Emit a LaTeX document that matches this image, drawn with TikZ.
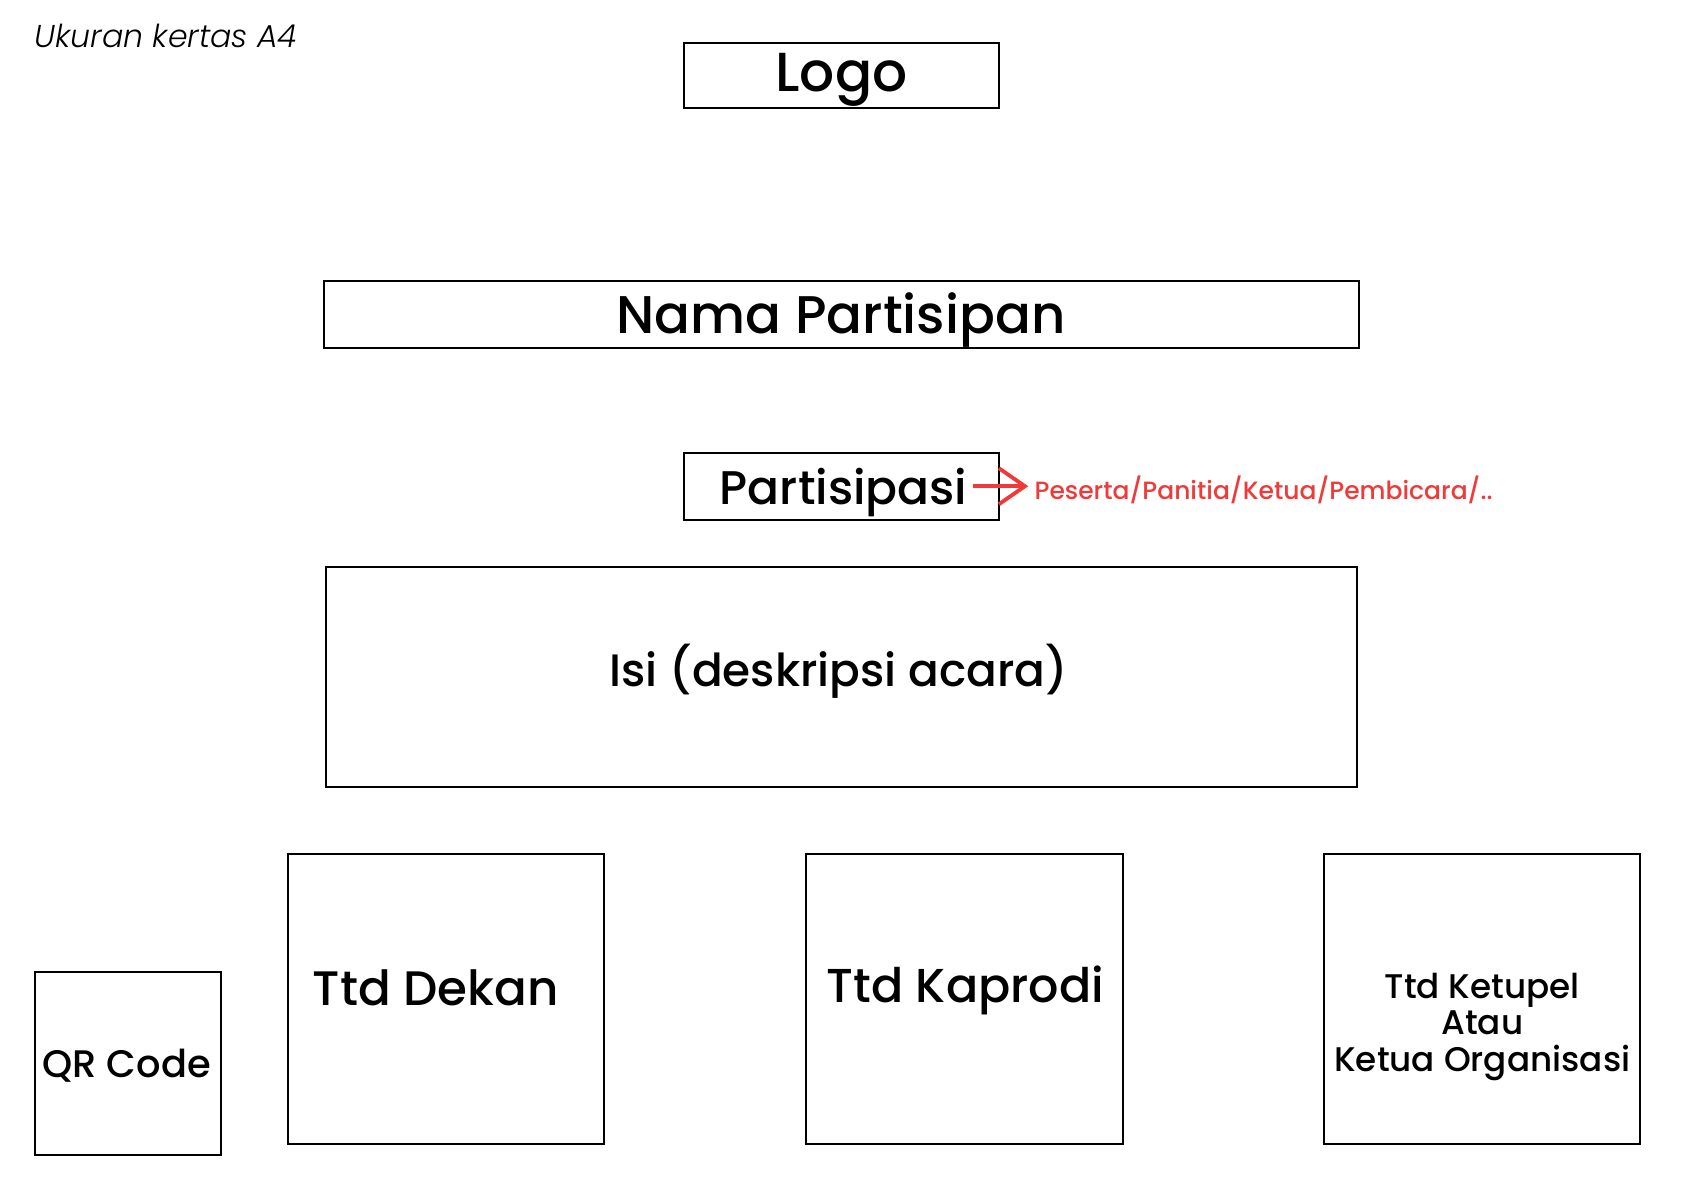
\documentclass[tikz,border=0pt]{standalone}
\usepackage{fontspec}
\setmainfont{Poppins}[UprightFont={* Medium},ItalicFont={* Light Italic}]
\usetikzlibrary{arrows.meta}
\definecolor{roleRed}{HTML}{F03A3A}
\tikzset{
  box/.style={draw=black, line width=1pt, inner sep=0pt},
  lbl/.style={inner sep=0pt, anchor=base},
  redarrow/.style={draw=roleRed, line width=2pt, -{Straight Barb[length=13pt,width=18pt,line width=1.9pt]}},
}
\begin{document}
\begin{tikzpicture}[x=0.53665pt, y=-0.53665pt]
\useasboundingbox (0,0) rectangle (1568,1108.7);
% paper note
\node[lbl, anchor=base west, font=\itshape\fontsize{15.8}{18}\selectfont] (paper) at (32,44) {Ukuran kertas A4};
% boxes
\node[box, minimum width=157.8pt, minimum height=32.7pt] (logo) at (784,70.5) {};
\node[lbl, font=\fontsize{27.5}{32}\selectfont] (logotext) at (784,85) {Logo};
\node[box, minimum width=517.3pt, minimum height=33.3pt] (nama) at (784,293) {};
\node[lbl, font=\fontsize{26.5}{31}\selectfont] (namatext) at (783.5,311) {Nama Partisipan};
\node[box, minimum width=157.8pt, minimum height=33.3pt] (part) at (784,453) {};
\node[lbl, font=\fontsize{23.6}{28}\selectfont] (parttext) at (786,470) {Partisipasi};
\node[anchor=west, inner xsep=3pt, inner ysep=1.5pt, text=roleRed, font=\fontsize{12.5}{15}\selectfont] (role) at (958,456) {Peserta/Panitia/Ketua/Pembicara/..};
\draw[redarrow] ([xshift=-13.9pt]part.east) -- (part.east -| role.west);
\node[box, minimum width=515.2pt, minimum height=110pt] (isi) at (784,630.5) {};
\node[lbl, font=\fontsize{22.7}{27}\selectfont] (isitext) at (781.5,640) {Isi (deskripsi acara)};
% signature row
\node[box, minimum width=92.8pt, minimum height=91.2pt] (qr) at (119.5,991) {};
\node[lbl, font=\fontsize{19.2}{23}\selectfont] (qrtext) at (118,1004) {QR Code};
\node[box, minimum width=158.3pt, minimum height=144.9pt] (dekan) at (415.5,931) {};
\node[lbl, font=\fontsize{24.2}{28}\selectfont] (dekantext) at (406,937) {Ttd Dekan};
\node[box, minimum width=158.3pt, minimum height=144.9pt] (kaprodi) at (898.5,931) {};
\node[lbl, font=\fontsize{23.8}{28}\selectfont] (kaprodtext) at (899.5,934) {Ttd Kaprodi};
\node[box, minimum width=157.8pt, minimum height=144.9pt] (ketupel) at (1381,931) {};
\node[lbl, font=\fontsize{17.1}{20}\selectfont] (ketupel1) at (1381,930) {Ttd Ketupel};
\node[lbl, font=\fontsize{17.1}{20}\selectfont] (ketupel2) at (1381,964) {Atau};
\node[lbl, font=\fontsize{17.1}{20}\selectfont] (ketupel3) at (1381,998) {Ketua Organisasi};
\end{tikzpicture}
\end{document}
